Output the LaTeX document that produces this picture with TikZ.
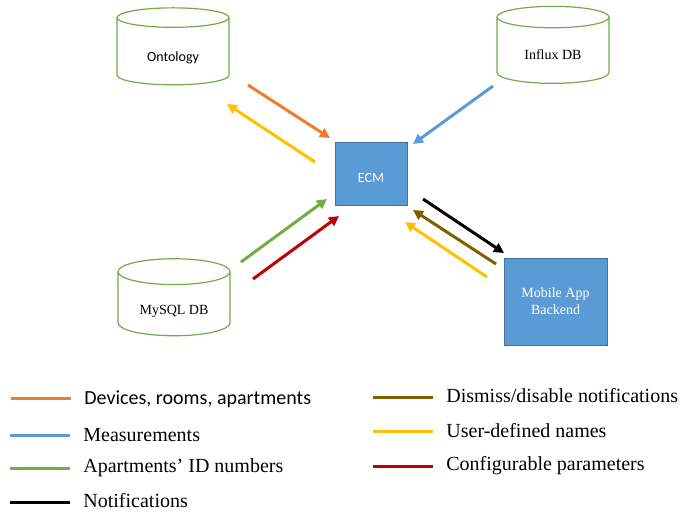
\documentclass[tikz,border=0pt]{standalone}
\usepackage{fontspec}
\setmainfont{Liberation Serif}
\newfontfamily\calibri{Carlito}
\usetikzlibrary{shapes.geometric, arrows.meta, positioning}

\definecolor{dbgreen}{HTML}{70AD47}
\definecolor{boxblue}{HTML}{5B9BD5}
\definecolor{boxedge}{HTML}{41719C}
\definecolor{devorange}{HTML}{ED7D31}
\definecolor{measblue}{HTML}{5B9BD5}
\definecolor{idgreen}{HTML}{70AD47}
\definecolor{dismbrown}{HTML}{7F6000}
\definecolor{nameyellow}{HTML}{FFC000}
\definecolor{confred}{HTML}{C00000}

\tikzset{
  db/.style={cylinder, shape border rotate=90, aspect=0.375, draw=dbgreen,
             line width=0.6pt, minimum width=56pt, minimum height=38.5pt,
             inner sep=0pt, text height=12pt, text depth=2pt,
             font=\fontsize{7}{8.5}\selectfont},
  unit/.style={draw=boxedge, fill=boxblue, text=white, line width=0.5pt,
               align=center, inner sep=0pt, font=\fontsize{7}{8.5}\selectfont},
  flow/.style={line width=1.5pt, -{Triangle[length=5pt,width=5pt]}},
  key/.style={line width=1.5pt},
  keytext/.style={anchor=west, inner sep=0pt, font=\fontsize{10}{12}\selectfont}
}

\begin{document}
\begin{tikzpicture}[x=0.5pt, y=-0.5pt]
  \useasboundingbox (0,0) rectangle (685,511);

  % stores and units
  \node[db] (onto) at (173,51.5) {\calibri Ontology};
  \node[db, text height=11pt] (influx) at (553,50.5) {Influx DB};
  \node[db] (mysql) at (174,304) {MySQL DB};
  \node[unit, minimum width=36pt, minimum height=31.5pt,
        text height=9pt, text depth=0pt] (ecm) at (371,173.5) {\calibri ECM};
  \node[unit, minimum width=51.5pt, minimum height=43.5pt] (app) at (555.5,301.5) {Mobile App\\Backend};

  % ends of the arrows
  \coordinate (devS) at (248,85);   \coordinate (devE) at (330,138);
  \coordinate (nameS) at (315,162); \coordinate (nameE) at (227,104);
  \coordinate (measS) at (493,86);  \coordinate (measE) at (413,144);
  \coordinate (idS) at (241,262);   \coordinate (idE) at (327,199);
  \coordinate (confS) at (253,279); \coordinate (confE) at (339,216);
  \coordinate (notS) at (423,199);  \coordinate (notE) at (504,253);
  \coordinate (disS) at (496,264);  \coordinate (disE) at (413,210);
  \coordinate (unS) at (487,277);   \coordinate (unE) at (405,222);

  \draw[flow, devorange] (devS) -- (devE);
  \draw[flow, nameyellow] (nameS) -- (nameE);
  \draw[flow, measblue] (measS) -- (measE);
  \draw[flow, idgreen] (idS) -- (idE);
  \draw[flow, confred] (confS) -- (confE);
  \draw[flow, black] (notS) -- (notE);
  \draw[flow, dismbrown] (disS) -- (disE);
  \draw[flow, nameyellow] (unS) -- (unE);

  % legend
  \draw[key, devorange] (11,398) -- (71,398);
  \node[keytext] (kdev) at (84,399) {\calibri Devices, rooms, apartments};
  \draw[key, measblue] (10,435) -- (70,435);
  \node[keytext] (kmeas) at (83,435) {Measurements};
  \draw[key, idgreen] (10,468) -- (70,468);
  \node[keytext] (kid) at (83,468) {Apartments’ ID numbers};
  \draw[key, black] (10,502) -- (70,502);
  \node[keytext] (knot) at (83,501) {Notifications};

  \draw[key, dismbrown] (373,397) -- (433,397);
  \node[keytext] (kdis) at (446,396) {Dismiss/disable notifications};
  \draw[key, nameyellow] (373,431) -- (433,431);
  \node[keytext] (kname) at (446,431) {User-defined names};
  \draw[key, confred] (373,466) -- (433,466);
  \node[keytext] (kconf) at (446,466) {Configurable parameters};
\end{tikzpicture}
\end{document}
